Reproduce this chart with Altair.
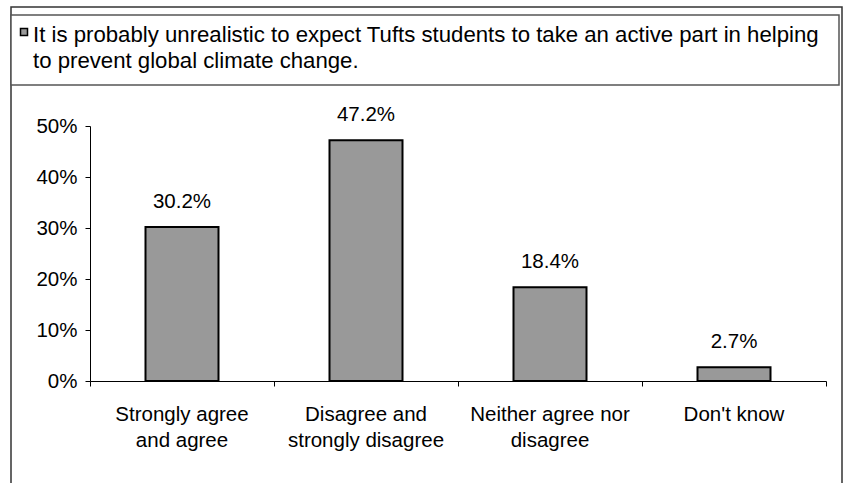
import altair as alt
import pandas as pd

# Survey responses
categories = [
    "Strongly agree\nand agree",
    "Disagree and\nstrongly disagree",
    "Neither agree nor\ndisagree",
    "Don't know",
]
shares = [30.2, 47.2, 18.4, 2.7]
series_lines = [
    "It is probably unrealistic to expect Tufts students to take an active part in helping",
    "to prevent global climate change.",
]
y_ticks = [0, 10, 20, 30, 40, 50]

FONT = "Liberation Sans"
FS = 20.5
KEY_FS = 22.2
BAR_FILL = "#999999"

df = pd.DataFrame({"category": categories, "share": shares})
legend_df = pd.DataFrame({"text": ["\n".join(series_lines)]})
frame_df = pd.DataFrame({"k": [0]})

x_enc = alt.X(
    "category:N",
    sort=categories,
    scale=alt.Scale(paddingInner=0, paddingOuter=0),
    axis=alt.Axis(
        title=None,
        labelAngle=0,
        labelExpr="split(datum.label, '\\n')",
        labelLineHeight=26,
        labelLimit=400,
        labelPadding=18,
        labelFont=FONT,
        labelFontSize=FS,
        labelColor="black",
        tickSize=5,
        tickColor="black",
        bandPosition=1,
        tickExtra=True,
        domainColor="black",
    ),
)
y_enc = alt.Y(
    "share:Q",
    scale=alt.Scale(domain=[0, 50], nice=False),
    axis=alt.Axis(
        title=None,
        values=y_ticks,
        labelExpr="datum.value + '%'",
        labelFont=FONT,
        labelFontSize=FS,
        labelColor="black",
        labelPadding=8,
        tickSize=5,
        tickColor="black",
        domainColor="black",
        grid=False,
    ),
)

bars = alt.Chart(df).mark_bar(
    width=73, fill=BAR_FILL, stroke="black", strokeWidth=2
).encode(x=x_enc, y=y_enc)

values = alt.Chart(df).mark_text(
    baseline="alphabetic", dy=-19, font=FONT, fontSize=FS, color="black"
).transform_calculate(
    label="format(datum.share, '.1f') + '%'"
).encode(
    x=alt.X("category:N", sort=categories),
    y="share:Q",
    text="label:N",
)

# Outer chart frame
outer = alt.Chart(frame_df).mark_rect(
    fill=None, stroke="#333333", strokeWidth=1.5
).encode(
    x=alt.value(-79), x2=alt.value(752), y=alt.value(-119), y2=alt.value(380)
)

# Series key box
key_box = alt.Chart(frame_df).mark_rect(
    fill="white", stroke="#555555", strokeWidth=1.5
).encode(
    x=alt.value(-79), x2=alt.value(749), y=alt.value(-111), y2=alt.value(-41)
)
key_symbol = alt.Chart(frame_df).mark_point(
    shape="square", size=49, filled=True, fill=BAR_FILL, stroke="black",
    strokeWidth=1.5, opacity=1
).encode(x=alt.value(-66), y=alt.value(-94))
key_text = alt.Chart(legend_df).mark_text(
    align="left", baseline="top", lineBreak="\n", lineHeight=25.5,
    font=FONT, fontSize=KEY_FS, color="black"
).encode(x=alt.value(-57), y=alt.value(-102), text="text:N")

chart = alt.layer(outer, key_box, key_symbol, key_text, bars, values).properties(
    width=736,
    height=255,
    autosize=alt.AutoSizeParams(type="none"),
    padding={"left": 90, "top": 126, "right": 22, "bottom": 102},
    background="white",
).configure_view(stroke=None)

chart.save("out.html", embed_options={"renderer": "svg", "actions": False})
